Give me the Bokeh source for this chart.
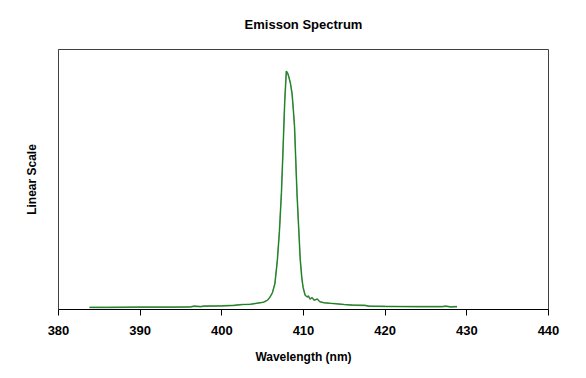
from bokeh.plotting import figure
from bokeh.models import Range1d, FixedTicker
from bokeh.embed import file_html
from bokeh.resources import INLINE

# Wavelength (nm) and relative intensity
wavelength = [383.8, 386.0, 390.0, 394.0, 396.2, 396.6, 397.4, 397.8, 400.0, 401.5,
              402.5, 403.5, 404.3, 405.1, 405.6, 405.9, 406.2, 406.5, 406.8, 407.05,
              407.3, 407.5, 407.7, 407.9, 408.05, 408.2, 408.4, 408.6, 408.75, 408.9,
              409.05, 409.2, 409.4, 409.6, 409.8, 409.95, 410.2, 410.45, 410.6, 410.8,
              411.05, 411.3, 411.7, 412.0, 412.5, 413.2, 414.0, 415.0, 416.0, 417.5,
              418.0, 420.0, 424.0, 427.0, 427.4, 428.0, 428.8]
intensity = [0.008, 0.008, 0.009, 0.009, 0.010, 0.013, 0.011, 0.013, 0.014, 0.016,
             0.019, 0.020, 0.024, 0.028, 0.036, 0.048, 0.065, 0.100, 0.190, 0.300,
             0.450, 0.620, 0.800, 0.917, 0.910, 0.895, 0.870, 0.830, 0.770, 0.705,
             0.577, 0.449, 0.320, 0.192, 0.120, 0.085, 0.055, 0.048, 0.052, 0.040,
             0.046, 0.036, 0.040, 0.030, 0.026, 0.024, 0.022, 0.019, 0.017, 0.016,
             0.013, 0.012, 0.011, 0.011, 0.013, 0.010, 0.011]
x_ticks = [380, 390, 400, 410, 420, 430, 440]

p = figure(frame_width=490, frame_height=260, output_backend="svg", toolbar_location=None,
           x_range=Range1d(380, 440), y_range=Range1d(0, 1),
           min_border_left=58, min_border_right=22, min_border_top=0, min_border_bottom=8)

p.title.text = "Emisson Spectrum"
p.title.align = "center"
p.title.vertical_align = "top"
p.title.text_font = "Liberation Sans"
p.title.text_font_size = "13px"
p.title.text_font_style = "bold"
p.title.text_color = "black"
p.title.offset = 0
p.title.standoff = 32

p.line(wavelength, intensity, line_color="#8c8c8c", line_width=1.6)
p.line(wavelength, intensity, line_color="#00900a", line_width=1)

p.xgrid.visible = False
p.ygrid.visible = False
p.outline_line_color = "#404040"
p.outline_line_width = 1

xa = p.xaxis[0]
xa.ticker = FixedTicker(ticks=x_ticks)
xa.minor_tick_line_color = None
xa.major_tick_out = 6
xa.major_tick_in = 0
xa.axis_line_color = "black"
xa.major_tick_line_color = "black"
xa.major_label_text_font = "Liberation Sans"
xa.major_label_text_font_size = "13px"
xa.major_label_text_font_style = "bold"
xa.major_label_text_color = "black"
xa.major_label_standoff = 10
xa.axis_label = "Wavelength (nm)"
xa.axis_label_text_font = "Liberation Sans"
xa.axis_label_text_font_size = "12px"
xa.axis_label_text_font_style = "bold"
xa.axis_label_text_color = "black"
xa.axis_label_standoff = 12

ya = p.yaxis[0]
ya.ticker = FixedTicker(ticks=[])
ya.major_tick_line_color = None
ya.minor_tick_line_color = None
ya.axis_line_color = "#404040"
ya.axis_label = "Linear Scale"
ya.axis_label_text_font = "Liberation Sans"
ya.axis_label_text_font_size = "12px"
ya.axis_label_text_font_style = "bold"
ya.axis_label_text_color = "black"
ya.axis_label_standoff = 20

open("out.html", "w").write(file_html(p, INLINE))
